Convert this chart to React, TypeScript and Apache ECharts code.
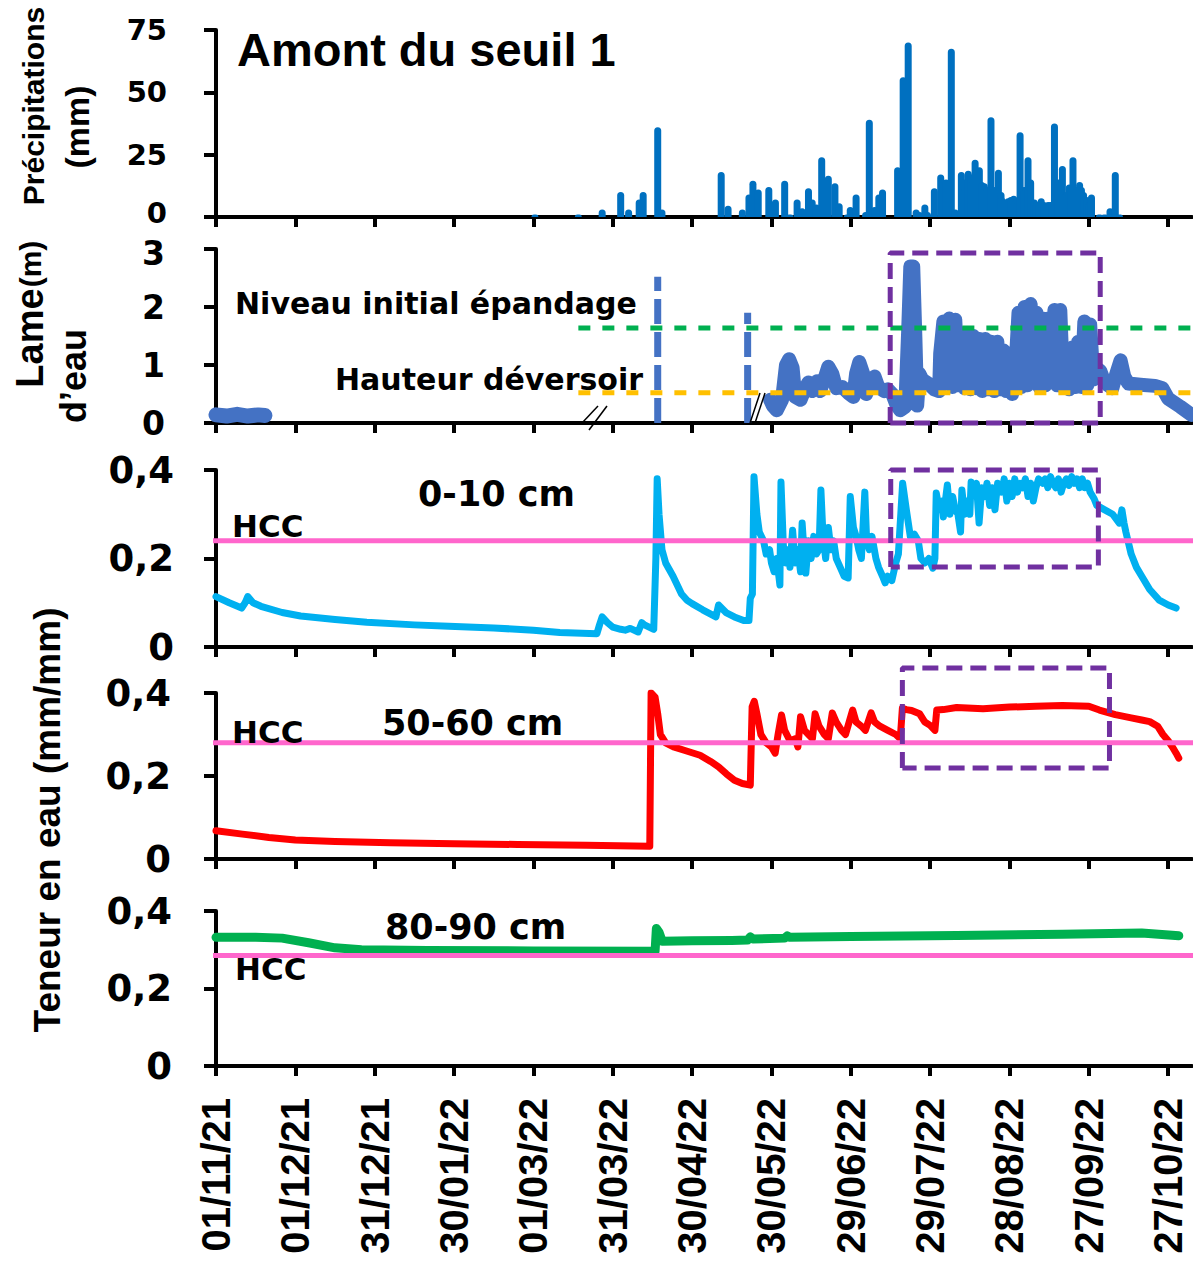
import React, { useEffect, useRef } from "react";
import * as echarts from "echarts";

// ---------- axis ticks ----------
const xTickDays = [0, 30, 60, 90, 120, 150, 180, 210, 240, 270, 300, 330, 360];
const xTickLabels = ["01/11/21", "01/12/21", "31/12/21", "30/01/22", "01/03/22", "31/03/22", "30/04/22", "30/05/22", "29/06/22", "29/07/22", "28/08/22", "27/09/22", "27/10/22"];
const moistureTickLabels = ["0", "0,2", "0,4"];

// ---------- precipitation (day since 01/11/21, mm) ----------
const precipDays = [120.6, 137, 146, 153, 156, 160, 161.5, 167, 168.6, 191, 193.6, 199, 201.5, 203, 205, 209, 211.5, 215, 217, 219.7, 221.6, 224, 225.4, 227, 229, 231.5, 234, 235.6, 238.7, 239.8, 242, 245.6, 247, 249, 250.6, 252, 257.7, 259.8, 261.7, 264.7, 266, 268, 269, 271.6, 274, 276, 278, 279.5, 281.8, 282.8, 283, 284.4, 285.5, 286, 287, 288.6, 289.5, 290.5, 291.5, 292.3, 293, 294.5, 295.8, 296.8, 297, 298.5, 299.5, 300.5, 301.6, 302.3, 303, 304, 305.5, 306.2, 307, 308, 309.4, 310.2, 311, 312, 313, 314.6, 315.5, 316.2, 317, 318.5, 319.2, 320, 321.5, 322.6, 323.2, 324, 325.5, 326.5, 327.2, 328, 329.2, 330.2, 331, 334, 336, 338, 340, 341.6];
const precipMm = [1, 1, 3, 10, 3, 7, 10, 36, 3, 18, 4.5, 3, 9, 14.5, 11, 12, 7, 14.5, 1, 7, 3.5, 11.5, 7, 5, 24, 16.5, 13.5, 5.5, 1, 4, 9, 2, 39, 4, 9, 11, 20, 56, 70, 3, 2, 5, 2, 11.5, 17, 15, 67.5, 3, 18, 15, 12, 18.5, 17, 15, 23, 20, 14, 13.5, 12, 12, 40, 12, 19, 10, 8, 7, 7.5, 8, 8.5, 7, 6, 34, 12, 12, 24, 15, 7, 6, 6, 7.5, 6, 6, 6, 6, 37.5, 15, 14, 20.5, 10, 13, 12, 24, 12, 14, 12, 10, 8, 6, 9, 1, 1, 3.5, 18, 1];

// ---------- water level (m) ----------
const waterEarlyDays = [0, 4, 8, 12, 16, 18.5];
const waterEarlyM = [0.14, 0.12, 0.15, 0.12, 0.14, 0.13];
const waterDays = [209.5, 210.5, 212, 214, 215.5, 216.7, 218, 219, 221, 222.8, 224, 225.4, 227.3, 228.4, 230.3, 231.5, 233, 234.5, 236.8, 239, 241, 242, 243.2, 244.7, 245.8, 247.4, 249, 250.4, 252.6, 254, 255.7, 257.2, 258.7, 260.6, 261.7, 262.5, 263.6, 264.4, 265.1, 265.9, 267, 269.3, 271.6, 273.4, 273.8, 275, 276, 277.2, 278.4, 279.5, 280.6, 281.8, 283, 284, 285.2, 286.3, 287.4, 288.6, 289.7, 290.8, 292, 293, 294.3, 295.4, 296.5, 297.7, 298.8, 300, 301, 302.2, 303.4, 304.5, 305.7, 306.8, 308, 309, 310.2, 311.3, 312.4, 313.6, 314.7, 315.8, 317, 318, 319.2, 320.3, 321.5, 322.6, 323.7, 324.9, 326, 327.2, 328.3, 329.4, 330.5, 331.7, 332.8, 334.3, 335.8, 337.3, 338.9, 340.4, 342, 343.4, 345, 349.5, 355, 357.8, 360, 364.6, 368.8];
const waterM = [0.4, 0.3, 0.22, 0.4, 1.0, 1.1, 0.95, 0.45, 0.4, 0.6, 0.7, 0.55, 0.72, 0.55, 0.8, 0.97, 0.85, 0.6, 0.62, 0.52, 0.45, 0.85, 1.05, 0.85, 0.5, 0.68, 0.8, 0.62, 0.55, 0.58, 0.5, 0.32, 0.22, 0.28, 1.6, 2.7, 2.7, 1.5, 0.3, 0.85, 0.75, 0.68, 0.58, 0.55, 1.2, 1.75, 0.7, 1.8, 0.62, 1.78, 0.65, 1.55, 0.6, 1.5, 0.58, 1.5, 0.6, 1.45, 0.55, 1.45, 0.58, 1.4, 0.55, 1.4, 0.58, 1.25, 0.55, 1.2, 0.5, 0.9, 1.9, 0.62, 2.0, 0.65, 2.05, 0.7, 1.9, 0.62, 1.8, 0.65, 1.8, 0.7, 1.95, 0.65, 1.95, 0.62, 1.25, 0.58, 1.3, 0.62, 1.4, 0.62, 1.75, 0.65, 1.7, 0.75, 0.95, 0.9, 0.72, 0.65, 0.6, 0.85, 1.08, 0.8, 0.68, 0.66, 0.64, 0.6, 0.42, 0.28, 0.14];

// ---------- thresholds ----------
const epandageDays = [137, 369.5];
const epandageM = [1.64, 1.64];
const deversoirDays = [137, 369.5];
const deversoirM = [0.52, 0.52];
const markerADays = [167, 167];
const markerAM = [0, 2.52];
const markerBDays = [201, 201];
const markerBM = [0, 1.9];
const hccDays = [-3, 369.5];
const hcc010 = [0.24, 0.24];
const hcc5060 = [0.28, 0.28];
const hcc8090 = [0.285, 0.285];

// ---------- highlight boxes ----------
const boxWaterDays = [254.9, 254.9, 334.3, 334.3, 254.9];
const boxWaterM = [0, 2.93, 2.93, 0, 0];
const box010Days = [255.1, 255.1, 333.6, 333.6, 255.1];
const box010Vals = [0.181, 0.4, 0.4, 0.181, 0.181];
const box5060Days = [259.5, 259.5, 337.8, 337.8, 259.5];
const box5060Vals = [0.219, 0.46, 0.46, 0.219, 0.219];

// ---------- soil moisture 0-10 cm ----------
const sm010Days = [0, 5, 9.7, 11, 12, 14, 17, 25, 32, 45, 57, 75, 88, 105, 120, 130, 144, 145, 146, 148, 150, 153, 154.7, 156.6, 159.6, 161, 162, 165.5, 166.3, 166.8, 167.5, 168.6, 170, 172.8, 176, 178, 180, 184, 189, 190, 193, 196, 199.5, 201.5, 202, 202.8, 203.4, 204.5, 205.4, 207, 208, 209.3, 210, 211, 212, 213.2, 213.6, 214.5, 215.5, 216.5, 217, 218, 219, 220, 221, 221.6, 222.5, 223, 224, 225, 226, 227, 228, 228.7, 229.5, 230.5, 231.5, 232.5, 233.5, 234.5, 236, 237.5, 239, 239.8, 241, 242, 243, 244, 245.3, 246, 247, 248, 249.5, 250.5, 252, 253, 254, 255.5, 257, 258, 259.6, 261, 262.5, 264, 265.5, 266.5, 268, 269.5, 271, 271.8, 272.3, 273.5, 274.5, 275, 276.5, 277.5, 278.5, 279.5, 280.5, 281.5, 282, 283, 284, 285, 285.5, 286.5, 287.5, 288.5, 289.5, 290.5, 291.5, 292.5, 293.5, 294.5, 295.5, 297, 298, 299, 300, 301, 302, 303, 304, 305, 306, 307, 308, 309, 310, 311, 312.5, 313.5, 314.5, 315.5, 316.5, 317.5, 318.5, 319.5, 320.5, 321.5, 322.5, 323.5, 324.5, 325.5, 326.5, 327.5, 328.5, 329.5, 330.5, 332, 333, 336, 339, 341.5, 342.5, 343.3, 344, 346, 348, 350, 353, 356.6, 360, 363];
const sm010 = [0.114, 0.1, 0.088, 0.1, 0.114, 0.1, 0.092, 0.078, 0.07, 0.062, 0.056, 0.05, 0.047, 0.043, 0.038, 0.033, 0.03, 0.05, 0.068, 0.055, 0.045, 0.04, 0.038, 0.042, 0.034, 0.055, 0.05, 0.04, 0.2, 0.38, 0.3, 0.22, 0.19, 0.16, 0.12, 0.106, 0.098, 0.084, 0.068, 0.095, 0.077, 0.068, 0.06, 0.06, 0.11, 0.12, 0.385, 0.3, 0.26, 0.24, 0.21, 0.22, 0.19, 0.17, 0.2, 0.14, 0.373, 0.23, 0.19, 0.22, 0.18, 0.264, 0.19, 0.22, 0.17, 0.28, 0.2, 0.167, 0.24, 0.2, 0.25, 0.21, 0.22, 0.355, 0.25, 0.2, 0.27, 0.22, 0.24, 0.2, 0.18, 0.16, 0.156, 0.34, 0.27, 0.25, 0.22, 0.2, 0.35, 0.24, 0.22, 0.25, 0.2, 0.18, 0.16, 0.145, 0.16, 0.15, 0.19, 0.21, 0.37, 0.31, 0.25, 0.255, 0.24, 0.2, 0.19, 0.2, 0.178, 0.2, 0.348, 0.31, 0.33, 0.294, 0.366, 0.3, 0.34, 0.31, 0.3, 0.26, 0.355, 0.3, 0.33, 0.3, 0.373, 0.35, 0.37, 0.28, 0.36, 0.34, 0.37, 0.32, 0.36, 0.31, 0.37, 0.35, 0.38, 0.33, 0.37, 0.34, 0.38, 0.35, 0.37, 0.36, 0.38, 0.34, 0.37, 0.33, 0.36, 0.38, 0.37, 0.38, 0.36, 0.385, 0.37, 0.36, 0.38, 0.35, 0.37, 0.38, 0.365, 0.385, 0.37, 0.38, 0.36, 0.38, 0.36, 0.37, 0.35, 0.335, 0.32, 0.31, 0.3, 0.28, 0.31, 0.28, 0.26, 0.21, 0.18, 0.16, 0.13, 0.106, 0.095, 0.088];

// ---------- soil moisture 50-60 cm ----------
const sm5060Days = [0, 10, 20, 30, 45, 66, 90, 114, 140, 164, 164.5, 166, 167, 168, 170, 173, 177, 183, 187, 190, 193, 196, 199, 202, 202.7, 203.5, 204.5, 206, 208, 210, 211.4, 212.5, 213.8, 215, 217, 219, 220, 221, 222.5, 224, 225.5, 226.5, 228, 230, 231.5, 233, 234.5, 236.5, 238, 240.7, 242, 244, 245.5, 247.7, 249, 251, 254, 257, 258.7, 259.5, 261, 263, 266, 268, 270, 271.8, 272.5, 275, 280, 290, 300, 310, 320, 330, 334, 340, 346, 350, 353, 356, 358, 360, 361.6, 363, 364];
const sm5060 = [0.068, 0.06, 0.052, 0.046, 0.042, 0.039, 0.037, 0.035, 0.033, 0.031, 0.4, 0.39, 0.35, 0.3, 0.28, 0.27, 0.262, 0.25, 0.235, 0.222, 0.205, 0.19, 0.182, 0.178, 0.367, 0.38, 0.35, 0.3, 0.28, 0.27, 0.255, 0.3, 0.347, 0.31, 0.285, 0.29, 0.27, 0.343, 0.31, 0.3, 0.29, 0.35, 0.32, 0.3, 0.29, 0.352, 0.33, 0.31, 0.3, 0.359, 0.33, 0.32, 0.31, 0.352, 0.33, 0.32, 0.31, 0.3, 0.29, 0.363, 0.36, 0.358, 0.35, 0.33, 0.322, 0.31, 0.359, 0.36, 0.365, 0.362, 0.366, 0.368, 0.37, 0.368, 0.359, 0.348, 0.34, 0.335, 0.331, 0.32, 0.3, 0.285, 0.27, 0.255, 0.243];

// ---------- soil moisture 80-90 cm ----------
const sm8090Days = [0, 15, 25, 35, 45, 55, 80, 120, 166, 166.5, 167.5, 168.7, 180, 195, 201, 202, 203, 215, 216, 217, 240, 280, 320, 350, 364];
const sm8090 = [0.332, 0.332, 0.33, 0.318, 0.305, 0.3, 0.298, 0.297, 0.296, 0.355, 0.345, 0.322, 0.323, 0.324, 0.325, 0.333, 0.328, 0.33, 0.336, 0.332, 0.334, 0.337, 0.34, 0.343, 0.336];

const pairs = (xs: number[], ys: number[]) => xs.map((x, i) => [x, ys[i]]);

const LEFT = 216;
const WIDTH = 976;
const gridBoxes = [
  { top: 30, height: 187 },
  { top: 249, height: 174 },
  { top: 470, height: 177 },
  { top: 693, height: 166 },
  { top: 911, height: 155 },
];

const TICK_FONT = "DejaVu Sans";
const TITLE_FONT = "Liberation Sans";

function lineSeries(name: string, grid: number, data: number[][], color: string, width: number, extra: any = {}) {
  return {
    name,
    type: "line",
    xAxisIndex: grid,
    yAxisIndex: grid,
    data,
    symbol: "none",
    showSymbol: false,
    silent: true,
    lineStyle: { color, width, cap: "round", join: "round", ...(extra.lineStyle || {}) },
    clip: extra.clip !== undefined ? extra.clip : true,
    z: extra.z || 2,
  };
}

function dashedSeries(name: string, grid: number, data: number[][], color: string, width: number, dash: number[], z = 5) {
  return {
    name,
    type: "line",
    xAxisIndex: grid,
    yAxisIndex: grid,
    data,
    symbol: "none",
    showSymbol: false,
    silent: true,
    clip: false,
    lineStyle: { color, width, type: dash, cap: "butt" },
    z,
  };
}

function txt(text: string, x: number, y: number, size: number, family: string, opts: any = {}) {
  return {
    type: "text",
    x,
    y,
    rotation: opts.rotation || 0,
    silent: true,
    z: 100,
    style: {
      text,
      fill: "#000",
      fontSize: size,
      fontWeight: "bold",
      fontFamily: family,
      align: opts.align || "left",
      textAlign: opts.align || "left",
      verticalAlign: "middle",
      textVerticalAlign: "middle",
    },
  };
}

export default function App() {
  const ref = useRef<HTMLDivElement>(null);

  useEffect(() => {
    document.body.style.margin = "0";
    if (!ref.current) return;
    const chart = echarts.init(ref.current, undefined, { renderer: "svg" });

    const labelRich = (size: number) => ({
      up: { fontFamily: TICK_FONT, fontWeight: "bold", fontSize: size, color: "#000", padding: [0, 0, 8, 0] },
      down: { fontFamily: TICK_FONT, fontWeight: "bold", fontSize: size, color: "#000", padding: [8, 0, 0, 0] },
    });

    const yRanges = [
      { max: 75, interval: 25, size: 29, margin: 49, lh: 22, fmt: (v: number) => (v === 0 ? "{up|0}" : String(v)) },
      { max: 3, interval: 1, size: 33, margin: 51, lh: 24, fmt: (v: number) => (v === 3 ? "{down|3}" : String(v)) },
      { max: 0.4, interval: 0.2, size: 37, margin: 42, lh: 30, fmt: (v: number) => moistureTickLabels[Math.round(v / 0.2)] },
      { max: 0.4, interval: 0.2, size: 37, margin: 45, lh: 30, fmt: (v: number) => moistureTickLabels[Math.round(v / 0.2)] },
      { max: 0.4, interval: 0.2, size: 37, margin: 44, lh: 30, fmt: (v: number) => moistureTickLabels[Math.round(v / 0.2)] },
    ];

    const grid = gridBoxes.map((g) => ({ left: LEFT, width: WIDTH, top: g.top, height: g.height, containLabel: false }));

    const xAxis = gridBoxes.map((_, i) => ({
      gridIndex: i,
      type: "value",
      min: 0,
      max: 369,
      axisLine: { show: true, onZero: false, lineStyle: { color: "#000", width: 4 } },
      axisTick: { show: true, length: 10, customValues: xTickDays, lineStyle: { color: "#000", width: 4 } },
      splitLine: { show: false },
      axisLabel:
        i === 4
          ? {
              show: true,
              customValues: xTickDays,
              rotate: 90,
              margin: 32,
              color: "#000",
              fontFamily: TITLE_FONT,
              fontWeight: "bold",
              fontSize: 40,
              formatter: (v: number) => {
                const k = xTickDays.indexOf(Math.round(v));
                return k >= 0 ? xTickLabels[k] : "";
              },
            }
          : { show: false },
    }));

    const yAxis = yRanges.map((r, i) => ({
      gridIndex: i,
      type: "value",
      min: 0,
      max: r.max,
      interval: r.interval,
      axisLine: { show: true, lineStyle: { color: "#000", width: 4 } },
      axisTick: { show: true, length: 12, lineStyle: { color: "#000", width: 4 } },
      splitLine: { show: false },
      axisLabel: {
        show: true,
        color: "#000",
        fontFamily: TICK_FONT,
        fontWeight: "bold",
        fontSize: r.size,
        lineHeight: r.lh,
        margin: r.margin,
        formatter: r.fmt,
        rich: labelRich(r.size),
      },
    }));

    const series: any[] = [
      {
        name: "Précipitations",
        type: "bar",
        xAxisIndex: 0,
        yAxisIndex: 0,
        data: pairs(precipDays, precipMm),
        barWidth: 7,
        silent: true,
        itemStyle: { color: "#0070C0", borderRadius: [4, 4, 0, 0] },
      },
      lineSeries("Lame early", 1, pairs(waterEarlyDays, waterEarlyM), "#4472C4", 15),
      lineSeries("Lame d'eau", 1, pairs(waterDays, waterM), "#4472C4", 14),
      dashedSeries("Niveau initial épandage", 1, pairs(epandageDays, epandageM), "#00B050", 5, [12, 12]),
      dashedSeries("Hauteur déversoir", 1, pairs(deversoirDays, deversoirM), "#FFC000", 5, [12, 12]),
      dashedSeries("Repère A", 1, pairs(markerADays, markerAM), "#4472C4", 7, [25, 8], 6),
      dashedSeries("Repère B", 1, pairs(markerBDays, markerBM), "#4472C4", 7, [25, 8], 6),
      dashedSeries("Cadre lame", 1, pairs(boxWaterDays, boxWaterM), "#7030A0", 5, [16, 8], 7),

      lineSeries("0-10 cm", 2, pairs(sm010Days, sm010), "#00B0F0", 7),
      lineSeries("HCC 0-10", 2, pairs(hccDays, hcc010), "#FF66CC", 5, { clip: false, z: 4, lineStyle: { cap: "butt" } }),
      dashedSeries("Cadre 0-10", 2, pairs(box010Days, box010Vals), "#7030A0", 5, [16, 8], 7),

      lineSeries("50-60 cm", 3, pairs(sm5060Days, sm5060), "#FF0000", 7),
      lineSeries("HCC 50-60", 3, pairs(hccDays, hcc5060), "#FF66CC", 5, { clip: false, z: 4, lineStyle: { cap: "butt" } }),
      dashedSeries("Cadre 50-60", 3, pairs(box5060Days, box5060Vals), "#7030A0", 5, [16, 8], 7),

      lineSeries("80-90 cm", 4, pairs(sm8090Days, sm8090), "#00B050", 9),
      lineSeries("HCC 80-90", 4, pairs(hccDays, hcc8090), "#FF66CC", 5, { clip: false, z: 4, lineStyle: { cap: "butt" } }),
    ];

    const R = Math.PI / 2;
    const graphic: any[] = [
      txt("Amont du seuil 1", 237, 49, 47, TITLE_FONT),
      txt("Niveau initial épandage", 235, 303, 30, TICK_FONT),
      txt("Hauteur déversoir", 335, 379, 30, TICK_FONT),
      txt("0-10 cm", 418, 494, 35, TICK_FONT),
      txt("HCC", 232, 526, 31, TICK_FONT),
      txt("50-60 cm", 382, 723, 35, TICK_FONT),
      txt("HCC", 232, 732, 31, TICK_FONT),
      txt("80-90 cm", 385, 927, 35, TICK_FONT),
      txt("HCC", 235, 969, 31, TICK_FONT),
      txt("Précipitations", 33, 106, 30, TITLE_FONT, { rotation: R, align: "center" }),
      txt("(mm)", 77, 127, 34, TITLE_FONT, { rotation: R, align: "center" }),
      txt("Lame", 30, 338, 38, TITLE_FONT, { rotation: R, align: "center" }),
      txt("(m)", 30, 264, 30, TITLE_FONT, { rotation: R, align: "center" }),
      txt("d’eau", 73, 376, 36, TITLE_FONT, { rotation: R, align: "center" }),
      txt("Teneur en eau (mm/mm)", 47, 820, 37, TITLE_FONT, { rotation: R, align: "center" }),
      { type: "line", silent: true, z: 100, shape: { x1: 582, y1: 423, x2: 598, y2: 406 }, style: { stroke: "#000", lineWidth: 1.5 } },
      { type: "line", silent: true, z: 100, shape: { x1: 589, y1: 430, x2: 607, y2: 406 }, style: { stroke: "#000", lineWidth: 1.5 } },
      { type: "line", silent: true, z: 100, shape: { x1: 750, y1: 423, x2: 760, y2: 393 }, style: { stroke: "#000", lineWidth: 1.5 } },
      { type: "line", silent: true, z: 100, shape: { x1: 755, y1: 423, x2: 765, y2: 393 }, style: { stroke: "#000", lineWidth: 1.5 } },
    ];

    chart.setOption({
      animation: false,
      backgroundColor: "#fff",
      grid,
      xAxis,
      yAxis,
      series,
      graphic,
    });

    return () => chart.dispose();
  }, []);

  return <div ref={ref} style={{ width: 1193, height: 1271 }} />;
}
